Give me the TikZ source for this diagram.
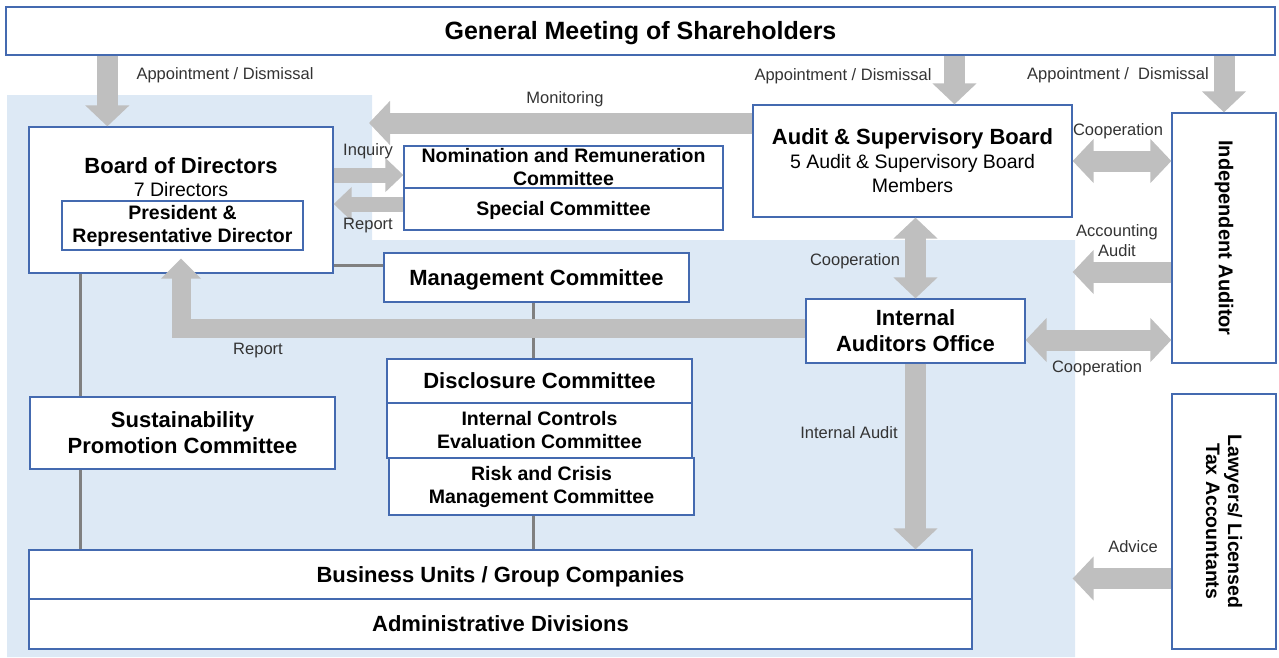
\documentclass[tikz,border=0pt]{standalone}
\usepackage{fontspec}
\setmainfont{Liberation Sans}
\usetikzlibrary{arrows.meta}
\definecolor{frame}{RGB}{68,106,176}
\definecolor{pale}{RGB}{221,233,245}
\definecolor{band}{RGB}{191,191,191}
\definecolor{wire}{RGB}{128,128,128}
\tikzset{
  box/.style={draw=frame,line width=1.3pt,fill=white,inner sep=0pt,align=center},
  headtxt/.style={font=\bfseries\fontsize{22}{26}\selectfont},
  subtxt/.style={font=\bfseries\fontsize{19.5}{23}\selectfont},
  flat/.style 2 args={text height=#1pt,text depth=#2pt},
  note/.style={font=\fontsize{16.5}{20}\selectfont,text=black!80,inner sep=0pt,align=center},
  link/.style={draw=wire,line width=3pt},
  fat/.style={color=band,line width=21pt,-{Triangle[length=21pt,width=43pt]}},
  fatboth/.style={color=band,line width=21pt,{Triangle[length=21pt,width=43pt]}-{Triangle[length=21pt,width=43pt]}},
  slim/.style={color=band,line width=15pt,-{Triangle[length=18pt,width=33pt]}}
}
\begin{document}
\begin{tikzpicture}[x=1pt,y=-1pt]
\useasboundingbox (0,0) rectangle (1279,657);
\fill[pale] (7,95) -- (372,95) -- (372,240) -- (1075,240) -- (1075,657) -- (7,657) -- cycle;

\node[box,flat={22.5}{5.3},minimum width=1269pt,minimum height=48pt,font=\bfseries\fontsize{25}{30}\selectfont] (gm) at (640.5,31) {General Meeting of Shareholders};

\node[box,minimum width=304pt,minimum height=146pt] (brd) at (181,200) {};
\node[headtxt,flat={19.8}{4.6},inner sep=0pt] (brdt) at (181,166) {Board of Directors};
\node[font=\fontsize{19.5}{23}\selectfont,flat={17.6}{4.1},inner sep=0pt] (brdn) at (181,190) {7 Directors};
\node[box,subtxt,minimum width=241pt,minimum height=49pt] (pres) at (182.5,225.5) {President \&\\Representative Director};

\node[box,subtxt,minimum width=319pt,minimum height=42pt] (nom) at (563.5,167) {Nomination and Remuneration\\Committee};
\node[box,subtxt,flat={17.6}{4.1},minimum width=319pt,minimum height=42pt] (spc) at (563.5,209) {Special Committee};
\node[box,headtxt,flat={19.8}{4.6},minimum width=305pt,minimum height=49pt] (mc) at (536.5,277.5) {Management Committee};
\node[box,headtxt,minimum width=305pt,minimum height=72pt] (sus) at (182.5,433) {Sustainability\\Promotion Committee};
\node[box,headtxt,flat={19.8}{4.6},minimum width=305pt,minimum height=44pt] (dis) at (539.5,381) {Disclosure Committee};
\node[box,subtxt,minimum width=305pt,minimum height=55pt] (ice) at (539.5,430.5) {Internal Controls\\Evaluation Committee};
\node[box,subtxt,minimum width=305pt,minimum height=57pt] (risk) at (541.5,486.5) {Risk and Crisis\\Management Committee};
\node[box,headtxt,flat={19.8}{4.6},minimum width=943pt,minimum height=49pt] (biz) at (500.5,574.5) {Business Units / Group Companies};
\node[box,headtxt,flat={19.8}{4.6},minimum width=943pt,minimum height=50pt] (adm) at (500.5,624) {Administrative Divisions};

\node[box,minimum width=319pt,minimum height=112pt,font=\fontsize{19.5}{24}\selectfont] (asb) at (912.5,161) {{\bfseries\fontsize{22}{24}\selectfont Audit \& Supervisory Board}\\5 Audit \& Supervisory Board\\Members};
\node[box,headtxt,minimum width=219pt,minimum height=64pt] (iao) at (915.5,331) {Internal\\Auditors Office};
\node[box,minimum width=104pt,minimum height=250pt,label={[rotate=-90,font=\bfseries\fontsize{20}{24}\selectfont]center:Independent Auditor}] (ia) at (1224,238) {};
\node[box,minimum width=104pt,minimum height=255pt,label={[rotate=-90,align=center,font=\bfseries\fontsize{19.5}{22}\selectfont]center:{Lawyers/ Licensed\\Tax Accountants}}] (law) at (1224,521.5) {};

\draw[link] ([xshift=52pt]brd.south west) -- ([xshift=52pt]brd.south west |- sus.north);
\draw[link] ([xshift=52pt]brd.south west |- sus.south) -- ([xshift=52pt]brd.south west |- biz.north);
\draw[link] ([yshift=8pt]brd.south east) -- ([yshift=8pt]brd.south east -| mc.west);
\draw[link] ([xshift=-3pt]mc.south) -- ([xshift=-3pt]mc.south |- dis.north);
\draw[link] ([xshift=-3pt]mc.south |- risk.south) -- ([xshift=-3pt]mc.south |- biz.north);

\coordinate (mon) at (369,123);
\draw[fat] ([xshift=79pt]brd.north west |- gm.south) -- ([xshift=79pt]brd.north west);
\draw[fat] ([xshift=42pt]asb.north |- gm.south) -- ([xshift=42pt]asb.north);
\draw[fat] (ia.north |- gm.south) -- (ia.north);
\draw[fat] (asb.west |- mon) -- (mon);
\draw[slim] ([yshift=-8pt]nom.west -| brd.east) -- ([yshift=-8pt]nom.west);
\draw[slim] ([yshift=5pt]spc.west) -- ([yshift=5pt]spc.west -| brd.east);
\draw[fatboth] (asb.east) -- (asb.east -| ia.west);
\draw[fat] ([yshift=-34pt]ia.west) -- ([yshift=-34pt]ia.west -| asb.east);
\draw[fatboth] (iao.north |- asb.south) -- (iao.north);
\draw[fatboth] ([yshift=-9pt]iao.east) -- ([yshift=-9pt]iao.east -| ia.west);
\draw[color=band,line width=19pt,-{Triangle[length=20pt,width=39pt]}] ([yshift=3pt]iao.west) -| ([yshift=15pt]brd.south);
\draw[fat] (iao.south) -- (iao.south |- biz.north);
\draw[fat] ([yshift=-57pt]law.west) -- ([yshift=-57pt]law.west -| asb.east);

\node[note,flat={14.9}{3.5}] (ap1) at (225,74) {Appointment / Dismissal};
\node[note,flat={14.9}{3.5}] (ap2) at (843,75) {Appointment / Dismissal};
\node[note,flat={14.9}{3.5}] (ap3) at (1118,74) {Appointment /\ \ Dismissal};
\node[note,flat={14.9}{3.5}] (monl) at (565,98) {Monitoring};
\node[note,flat={14.9}{3.5}] (inq) at (368,150) {Inquiry};
\node[note,flat={14.9}{3.5}] (rep1) at (368,224) {Report};
\node[note,flat={14.9}{3.5}] (co1) at (1118,130) {Cooperation};
\node[note] (acc) at (1117,241) {Accounting\\Audit};
\node[note,flat={14.9}{3.5}] (co2) at (855,260) {Cooperation};
\node[note,flat={14.9}{3.5}] (co3) at (1097,367) {Cooperation};
\node[note,flat={14.9}{3.5}] (rep2) at (258,349) {Report};
\node[note,flat={14.9}{3.5}] (ina) at (849,433) {Internal Audit};
\node[note,flat={14.9}{3.5}] (adv) at (1133,547) {Advice};
\end{tikzpicture}
\end{document}
